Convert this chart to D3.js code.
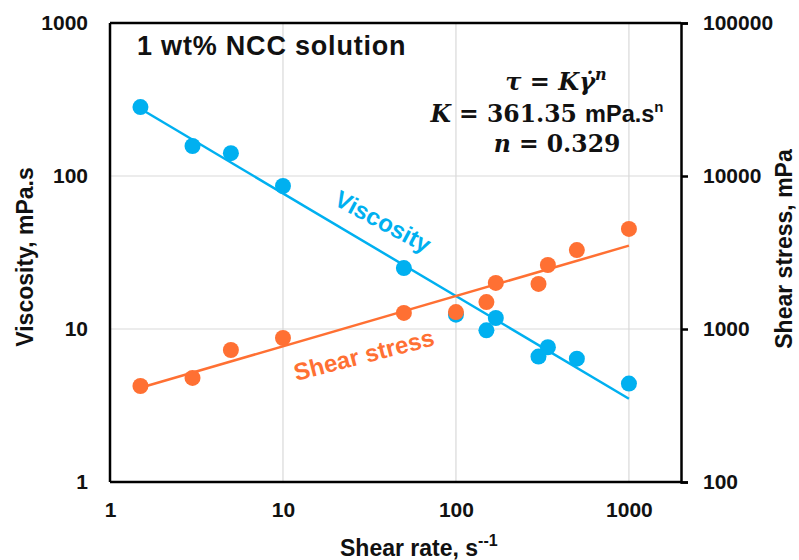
<!DOCTYPE html>
<html>
<head>
<meta charset="utf-8">
<script src="https://cdn.jsdelivr.net/npm/d3@7"></script>
<style>
  body { margin: 0; background: #fff; }
  svg text { font-family: "Liberation Sans", Arial, sans-serif; font-weight: bold; fill: #111; }
  .eq text { font-family: "DejaVu Serif", serif; }
</style>
</head>
<body>
<svg id="chart" width="799" height="560"></svg>
<script>
// shear rate, s^-1
var shearRate = [1.5, 3, 5, 10, 50, 100, 150, 170, 300, 340, 500, 1000];
// viscosity, mPa.s (left axis)
var viscosity = [282, 157, 141, 86, 25, 12.4, 9.8, 11.8, 6.6, 7.6, 6.4, 4.4];
// shear stress, mPa (right axis)
var shearStress = [424, 479, 729, 873, 1273, 1290, 1500, 2000, 1970, 2620, 3280, 4510];

// power-law fit lines, end points
var fitRate = [1.5, 1000];
var viscFit = [275, 3.5];
var stressFit = [413, 3505];

var xTicks = [1, 10, 100, 1000];
var yLeftTicks = [1, 10, 100, 1000];
var yRightTicks = [100, 1000, 10000, 100000];

var blue = "#00B0F0", orange = "#FF7033";

var margin = {top: 23, right: 118, bottom: 78, left: 110},
    width = 799 - margin.left - margin.right,
    height = 560 - margin.top - margin.bottom;

var svg = d3.select("#chart");
var g = svg.append("g")
    .attr("transform", "translate(" + margin.left + "," + margin.top + ")");

var x = d3.scaleLog().domain([1, 2000]).range([0, width]);
var yL = d3.scaleLog().domain([1, 1000]).range([height, 0]);
var yR = d3.scaleLog().domain([100, 100000]).range([height, 0]);

// gridlines
g.selectAll(".vgrid").data(xTicks.slice(1)).enter().append("line")
  .attr("x1", function(d){ return x(d); }).attr("x2", function(d){ return x(d); })
  .attr("y1", 0).attr("y2", height)
  .attr("stroke", "#d9d9d9").attr("stroke-width", 1.2);
g.selectAll(".hgrid").data(yLeftTicks.slice(1, -1)).enter().append("line")
  .attr("x1", 0).attr("x2", width)
  .attr("y1", function(d){ return yL(d); }).attr("y2", function(d){ return yL(d); })
  .attr("stroke", "#d9d9d9").attr("stroke-width", 1.2);

// frame
g.append("line").attr("x1", 0).attr("x2", width).attr("y1", 0).attr("y2", 0)
  .attr("stroke", "#000").attr("stroke-width", 2.5);
g.append("line").attr("x1", 0).attr("x2", width).attr("y1", height).attr("y2", height)
  .attr("stroke", "#000").attr("stroke-width", 2.5);
g.append("line").attr("x1", 0).attr("x2", 0).attr("y1", 0).attr("y2", height)
  .attr("stroke", "#000").attr("stroke-width", 2.5);

// right axis with outward ticks
var rAxis = g.append("g").attr("transform", "translate(" + width + ",0)")
  .call(d3.axisRight(yR).tickValues(yRightTicks).tickFormat(d3.format("d")).tickSize(7).tickPadding(15));
rAxis.select(".domain").attr("stroke-width", 2.5);
rAxis.selectAll(".tick line").attr("stroke-width", 2.5);
rAxis.selectAll(".tick text").attr("font-size", 21).attr("fill", "#111");

// left axis labels
var lAxis = g.append("g")
  .call(d3.axisLeft(yL).tickValues(yLeftTicks).tickFormat(d3.format("d")).tickSize(0).tickPadding(22));
lAxis.select(".domain").remove();
lAxis.selectAll(".tick text").attr("font-size", 21).attr("fill", "#111");

// bottom axis labels
var bAxis = g.append("g").attr("transform", "translate(0," + height + ")")
  .call(d3.axisBottom(x).tickValues(xTicks).tickFormat(d3.format("d")).tickSize(0).tickPadding(20));
bAxis.select(".domain").remove();
bAxis.selectAll(".tick text").attr("font-size", 21).attr("fill", "#111");

// fit lines and points
var line = function(yScale) {
  return d3.line().x(function(d){ return x(d[0]); }).y(function(d){ return yScale(d[1]); });
};
g.append("path").datum(d3.zip(fitRate, viscFit))
  .attr("d", line(yL)).attr("fill", "none").attr("stroke", blue).attr("stroke-width", 2.5);
g.selectAll(".visc").data(d3.zip(shearRate, viscosity)).enter().append("circle")
  .attr("cx", function(d){ return x(d[0]); }).attr("cy", function(d){ return yL(d[1]); })
  .attr("r", 8).attr("fill", blue);

g.append("path").datum(d3.zip(fitRate, stressFit))
  .attr("d", line(yR)).attr("fill", "none").attr("stroke", orange).attr("stroke-width", 2.5);
g.selectAll(".stress").data(d3.zip(shearRate, shearStress)).enter().append("circle")
  .attr("cx", function(d){ return x(d[0]); }).attr("cy", function(d){ return yR(d[1]); })
  .attr("r", 8).attr("fill", orange);

// series labels
svg.append("text").attr("transform", "translate(379,229) rotate(28)")
  .attr("text-anchor", "middle").attr("font-size", 24).style("fill", blue).text("Viscosity");
svg.append("text").attr("transform", "translate(366,363) rotate(-14.5)")
  .attr("text-anchor", "middle").attr("font-size", 24).style("fill", orange).text("Shear stress");

// title
svg.append("text").attr("x", 137).attr("y", 55).attr("font-size", 27)
  .attr("letter-spacing", 0.8).text("1 wt% NCC solution");

// equation
var eq = svg.append("g").attr("class", "eq").attr("text-anchor", "middle");
var l1 = eq.append("text").attr("x", 556).attr("y", 90).attr("font-size", 24);
l1.append("tspan").attr("font-style", "italic").text("τ");
l1.append("tspan").text(" = ");
l1.append("tspan").attr("font-style", "italic").text("Kγ̇");
l1.append("tspan").attr("font-style", "italic").attr("font-size", 16).attr("dy", -10).text("n");
var l2 = eq.append("text").attr("x", 547).attr("y", 122).attr("font-size", 23.5);
l2.append("tspan").attr("font-style", "italic").text("K");
l2.append("tspan").text(" = 361.35 ");
l2.append("tspan").style("font-family", "Liberation Sans, Arial, sans-serif").text("mPa.s");
l2.append("tspan").style("font-family", "Liberation Sans, Arial, sans-serif").attr("font-size", 15).attr("dy", -10).text("n");
var l3 = eq.append("text").attr("x", 557).attr("y", 152).attr("font-size", 23.5);
l3.append("tspan").attr("font-style", "italic").text("n");
l3.append("tspan").text(" = 0.329");

// axis titles
svg.append("text").attr("transform", "translate(33,257) rotate(-90)")
  .attr("text-anchor", "middle").attr("font-size", 23).text("Viscosity, mPa.s");
svg.append("text").attr("transform", "translate(792,249) rotate(-90)")
  .attr("text-anchor", "middle").attr("font-size", 23).text("Shear stress, mPa");
var xt = svg.append("text").attr("x", 340).attr("y", 556).attr("font-size", 23).text("Shear rate, s");
xt.append("tspan").attr("font-size", 16).attr("dy", -10).text("--1");
</script>
</body>
</html>
